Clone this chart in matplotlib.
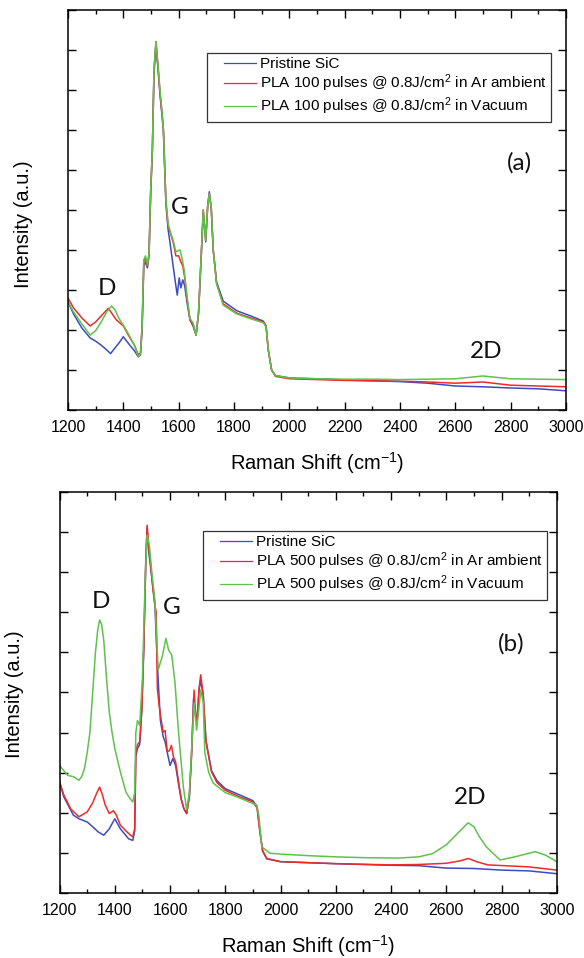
import matplotlib
matplotlib.use("Agg")
import matplotlib.pyplot as plt
from matplotlib.lines import Line2D
from matplotlib.legend_handler import HandlerLine2D
from matplotlib.ticker import MultipleLocator, NullFormatter

plt.rcParams['font.family'] = ['Liberation Sans', 'DejaVu Sans']
plt.rcParams['mathtext.fontset'] = 'custom'
plt.rcParams['mathtext.rm'] = 'Liberation Sans'
plt.rcParams['mathtext.it'] = 'Liberation Sans:italic'

BLUE = '#3b4cc0'
RED = '#ee2a2a'
GREEN = '#5ec34a'

# ---- panel (a): 100 pulses ----
a_blue_x = [1200, 1220, 1250, 1280, 1300, 1320, 1340, 1354, 1370, 1385, 1400, 1420, 1440, 1454, 1462,
            1468, 1474, 1480, 1487, 1493, 1499, 1505, 1511, 1518, 1525, 1533, 1540, 1545, 1554, 1562,
            1569, 1580, 1588, 1595, 1602, 1608, 1615, 1622, 1630, 1641, 1652, 1663, 1672, 1680, 1689,
            1698, 1705, 1711, 1718, 1725, 1737, 1761, 1810, 1860, 1906, 1916, 1924, 1936, 1950, 2002,
            2100, 2200, 2300, 2400, 2500, 2600, 2700, 2800, 2900, 3000]
a_blue_y = [2.70, 2.40, 2.05, 1.80, 1.72, 1.62, 1.50, 1.41, 1.55, 1.68, 1.83, 1.65, 1.48, 1.33, 1.38,
            2.00, 3.60, 3.70, 3.55, 3.85, 5.40, 6.45, 8.40, 9.15, 8.55, 7.85, 7.35, 6.95, 5.15, 4.50,
            4.17, 3.60, 3.20, 2.87, 3.30, 3.05, 3.25, 3.10, 2.70, 2.25, 2.10, 1.87, 2.40, 3.60, 4.95,
            4.20, 5.10, 5.45, 5.00, 4.00, 3.20, 2.72, 2.48, 2.35, 2.22, 2.10, 1.50, 1.00, 0.86, 0.80,
            0.78, 0.75, 0.73, 0.71, 0.67, 0.60, 0.58, 0.55, 0.53, 0.48]

a_red_x = [1200, 1220, 1250, 1280, 1300, 1320, 1346, 1358, 1375, 1400, 1420, 1440, 1454, 1462, 1468,
           1474, 1480, 1487, 1493, 1499, 1505, 1511, 1518, 1525, 1533, 1540, 1545, 1554, 1562, 1571,
           1580, 1590, 1600, 1608, 1615, 1622, 1630, 1641, 1652, 1663, 1672, 1680, 1689, 1698, 1705,
           1711, 1718, 1725, 1737, 1761, 1810, 1860, 1906, 1916, 1924, 1936, 1950, 2002, 2100, 2200,
           2300, 2400, 2500, 2600, 2700, 2800, 2900, 3000]
a_red_y = [2.80, 2.55, 2.30, 2.10, 2.20, 2.35, 2.54, 2.42, 2.25, 2.10, 1.85, 1.62, 1.38, 1.42, 2.10,
           3.70, 3.80, 3.60, 3.90, 5.50, 6.50, 8.50, 9.20, 8.60, 7.90, 7.40, 7.00, 5.20, 4.60, 4.40,
           4.20, 3.85, 3.85, 3.70, 3.60, 3.30, 2.80, 2.25, 2.15, 1.87, 2.45, 3.60, 5.00, 4.25, 5.10,
           5.40, 5.05, 4.00, 3.17, 2.65, 2.42, 2.30, 2.20, 2.10, 1.50, 1.00, 0.84, 0.78, 0.76, 0.74,
           0.73, 0.72, 0.70, 0.67, 0.70, 0.62, 0.60, 0.58]

a_green_x = [1200, 1220, 1250, 1280, 1300, 1320, 1340, 1358, 1370, 1385, 1400, 1420, 1440, 1454, 1462,
             1468, 1474, 1480, 1487, 1493, 1499, 1505, 1511, 1518, 1525, 1533, 1540, 1545, 1554, 1562,
             1571, 1580, 1590, 1605, 1612, 1620, 1630, 1641, 1652, 1663, 1672, 1680, 1689, 1698, 1705,
             1711, 1718, 1725, 1737, 1761, 1810, 1860, 1906, 1916, 1924, 1936, 1950, 2002, 2100, 2200,
             2300, 2400, 2500, 2600, 2700, 2800, 2900, 3000]
a_green_y = [2.70, 2.45, 2.15, 1.87, 1.98, 2.20, 2.45, 2.60, 2.50, 2.28, 2.12, 1.88, 1.62, 1.33, 1.40,
             2.10, 3.75, 3.85, 3.62, 3.90, 5.50, 6.50, 8.50, 9.20, 8.65, 7.95, 7.45, 7.00, 5.25, 4.65,
             4.42, 4.25, 3.95, 4.00, 3.80, 3.50, 2.85, 2.28, 2.18, 1.87, 2.45, 3.60, 5.00, 4.24, 5.10,
             5.40, 5.05, 4.00, 3.15, 2.62, 2.40, 2.28, 2.18, 2.08, 1.50, 1.00, 0.86, 0.80, 0.78, 0.77,
             0.77, 0.76, 0.77, 0.78, 0.85, 0.78, 0.77, 0.76]

a_labels = ['Pristine SiC',
            r'PLA 100 pulses @ 0.8J/cm$^2$ in Ar ambient',
            r'PLA 100 pulses @ 0.8J/cm$^2$ in Vacuum']
a_peaks = [('D', 1342, 3.03), ('G', 1605, 5.06), ('2D', 2712, 1.45), ('(a)', 2831, 6.18)]

# ---- panel (b): 500 pulses ----
b_blue_x = [1200, 1215, 1250, 1270, 1300, 1320, 1340, 1360, 1380, 1400, 1420, 1450, 1465, 1472, 1476,
            1482, 1490, 1498, 1505, 1512, 1517, 1523, 1530, 1538, 1545, 1552, 1558, 1565, 1575, 1582,
            1590, 1600, 1610, 1620, 1630, 1640, 1650, 1660, 1670, 1678, 1685, 1692, 1697, 1705, 1710,
            1720, 1730, 1750, 1770, 1800, 1850, 1900, 1915, 1925, 1935, 1950, 2000, 2200, 2400, 2500,
            2600, 2700, 2800, 2900, 3000]
b_blue_y = [2.77, 2.40, 1.94, 1.85, 1.77, 1.65, 1.52, 1.44, 1.60, 1.85, 1.60, 1.35, 1.31, 1.55, 3.40,
            3.60, 3.70, 4.60, 6.10, 8.20, 9.10, 8.50, 8.10, 7.60, 7.20, 6.00, 5.18, 4.30, 3.90, 3.77,
            3.50, 3.18, 3.35, 3.18, 2.75, 2.35, 2.10, 1.98, 2.40, 3.45, 4.85, 4.45, 4.30, 5.05, 5.30,
            4.95, 3.80, 3.05, 2.80, 2.60, 2.45, 2.30, 2.15, 1.55, 1.05, 0.85, 0.78, 0.73, 0.69, 0.68,
            0.62, 0.61, 0.57, 0.55, 0.48]

b_red_x = [1200, 1215, 1240, 1270, 1300, 1320, 1335, 1345, 1355, 1365, 1380, 1395, 1405, 1420, 1440,
           1455, 1465, 1472, 1476, 1482, 1490, 1498, 1505, 1512, 1517, 1523, 1530, 1538, 1545, 1550,
           1554, 1560, 1567, 1575, 1582, 1590, 1598, 1605, 1612, 1620, 1630, 1640, 1650, 1660, 1670,
           1678, 1687, 1693, 1698, 1705, 1711, 1720, 1730, 1750, 1770, 1800, 1850, 1900, 1915, 1925,
           1935, 1950, 2000, 2200, 2400, 2500, 2600, 2650, 2680, 2710, 2750, 2900, 3000]
b_red_y = [2.77, 2.45, 2.10, 1.90, 2.02, 2.25, 2.50, 2.64, 2.45, 2.20, 1.98, 2.05, 1.95, 1.69, 1.55,
           1.45, 1.40, 1.60, 3.50, 3.70, 3.77, 4.60, 6.18, 8.30, 9.17, 8.60, 8.17, 7.60, 7.17, 7.00,
           5.10, 4.70, 4.35, 4.01, 4.05, 3.52, 3.55, 3.68, 3.40, 3.27, 2.80, 2.35, 2.10, 1.98, 2.44,
           3.50, 5.06, 4.40, 4.31, 5.10, 5.44, 4.93, 3.77, 3.02, 2.75, 2.56, 2.40, 2.27, 2.12, 1.55,
           1.05, 0.86, 0.78, 0.73, 0.70, 0.71, 0.74, 0.80, 0.86, 0.78, 0.70, 0.65, 0.57]

b_green_x = [1200, 1215, 1230, 1250, 1270, 1280, 1290, 1300, 1310, 1320, 1330, 1338, 1345, 1352, 1360,
             1370, 1380, 1390, 1400, 1420, 1440, 1455, 1465, 1472, 1476, 1482, 1490, 1500, 1510, 1517,
             1525, 1535, 1545, 1557, 1565, 1572, 1585, 1595, 1606, 1618, 1630, 1648, 1660, 1670, 1680,
             1687, 1696, 1703, 1711, 1720, 1726, 1740, 1756, 1800, 1841, 1914, 1922, 1932, 1962, 2000,
             2100, 2200, 2300, 2430, 2500, 2550, 2600, 2640, 2679, 2700, 2720, 2745, 2795, 2860, 2922,
             2960, 3000]
b_green_y = [3.18, 3.05, 2.93, 2.90, 2.81, 2.90, 3.10, 3.50, 4.01, 5.01, 6.01, 6.55, 6.81, 6.70, 6.30,
             5.35, 4.51, 4.00, 3.60, 3.02, 2.52, 2.35, 2.27, 2.50, 4.00, 4.30, 4.18, 5.35, 7.84, 8.92,
             8.67, 7.92, 7.30, 5.56, 5.75, 5.90, 6.35, 6.05, 5.94, 5.23, 4.06, 2.65, 2.07, 2.50, 3.85,
             4.74, 4.06, 4.50, 5.06, 4.76, 3.49, 3.00, 2.74, 2.50, 2.40, 2.19, 1.90, 1.15, 0.99, 0.97,
             0.93, 0.90, 0.88, 0.87, 0.90, 0.98, 1.20, 1.48, 1.75, 1.65, 1.40, 1.15, 0.82, 0.92, 1.03,
             0.94, 0.78]

b_labels = ['Pristine SiC',
            r'PLA 500 pulses @ 0.8J/cm$^2$ in Ar ambient',
            r'PLA 500 pulses @ 0.8J/cm$^2$ in Vacuum']
b_peaks = [('D', 1351, 7.26), ('G', 1607, 7.13), ('2D', 2686, 2.37), ('(b)', 2834, 6.22)]


def draw_panel(ax, series, labels, peaks, legend_xy, ylabel_xy):
    colors = [BLUE, RED, GREEN]
    for (xs, ys), c in zip(series, colors):
        ax.plot(xs, ys, color=c, lw=1.1)
    ax.set_xlim(1200, 3000)
    ax.set_ylim(0, 10)
    ax.xaxis.set_major_locator(MultipleLocator(200))
    ax.xaxis.set_minor_locator(MultipleLocator(100))
    ax.yaxis.set_major_locator(MultipleLocator(1))
    ax.yaxis.set_major_formatter(NullFormatter())
    ax.tick_params(which='both', direction='in', top=True, right=True, width=1.0)
    ax.tick_params(which='major', length=5.5, labelsize=11.5, pad=7)
    ax.tick_params(which='minor', length=3.2)
    ax.tick_params(axis='y', which='minor', left=False, right=False)
    for sp in ax.spines.values():
        sp.set_linewidth(1.1)
    ax.set_xlabel(r'Raman Shift (cm$^{-1}$)', fontsize=14.5, labelpad=11)
    ax.set_ylabel('Intensity (a.u.)', fontsize=14.5)
    ax.yaxis.set_label_coords(*ylabel_xy)
    for txt, x, y in peaks:
        ax.text(x, y, txt, fontsize=17.5, family=['Lato', 'DejaVu Sans'],
                ha='center', va='center', color='#111111')
    handles = [Line2D([], [], color=c, lw=0.9) for c in colors]
    leg = ax.legend(handles, labels, loc='upper left', bbox_to_anchor=legend_xy,
                    borderaxespad=0, fontsize=11, fancybox=False, framealpha=1,
                    edgecolor='#333333', borderpad=0.3, labelspacing=0.08,
                    handlelength=2.9, handletextpad=0.25,
                    handler_map={Line2D: HandlerLine2D(xpad=0.8)})
    leg.get_frame().set_linewidth(0.9)


fig = plt.figure(figsize=(5.84, 9.58), dpi=100)
ax_a = fig.add_axes([0.1164, 0.572, 0.8527, 0.418])
ax_b = fig.add_axes([0.102, 0.0679, 0.8514, 0.4186])

draw_panel(ax_a, [(a_blue_x, a_blue_y), (a_red_x, a_red_y), (a_green_x, a_green_y)],
           a_labels, a_peaks, (0.280, 0.892), (-0.07, 0.464))
draw_panel(ax_b, [(b_blue_x, b_blue_y), (b_red_x, b_red_y), (b_green_x, b_green_y)],
           b_labels, b_peaks, (0.289, 0.903), (-0.072, 0.496))

fig.savefig('out.png', dpi=100)
